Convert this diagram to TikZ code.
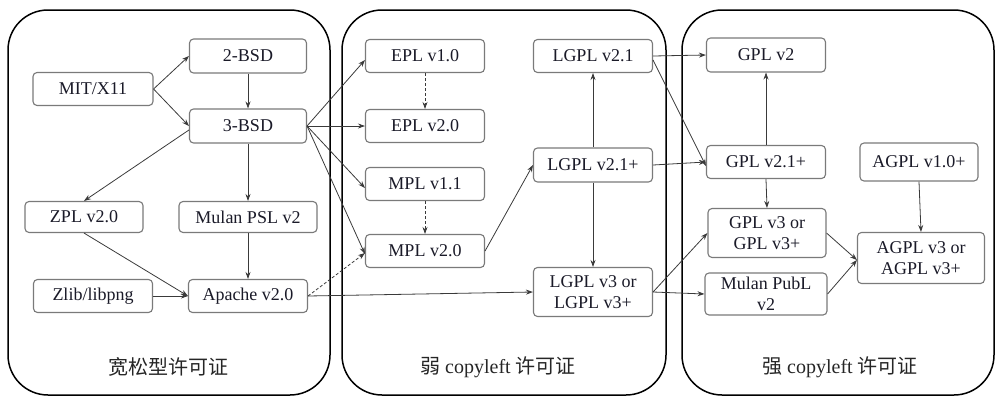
\documentclass[tikz,border=0pt]{standalone}
\usepackage{fontspec}
\setmainfont{Liberation Serif}
\newfontfamily\cjk{Noto Sans CJK SC}
\usetikzlibrary{arrows.meta}
\definecolor{boxgray}{HTML}{7A7A7A}
\definecolor{lngray}{HTML}{3A3A3A}
\definecolor{txt}{HTML}{1A1A28}
\begin{document}
\begin{tikzpicture}[x=1pt,y=-1pt,
  lic/.style={draw=boxgray, line width=1.1pt, rounded corners=4pt, inner sep=0pt,
    align=center, font=\fontsize{18}{21}\selectfont, text=txt, fill=white},
  arr/.style={draw=lngray, line width=0.8pt, -{Stealth[length=7pt,width=5pt]}},
  darr/.style={arr, dashed, dash pattern=on 3pt off 2pt},
  panel/.style={draw=black, line width=1.5pt, rounded corners=40pt},
  captext/.style={font=\fontsize{20}{24}\selectfont, text=black!85}]
\useasboundingbox (0,0) rectangle (997,397);
% panels
\draw[panel] (8,10) rectangle (330,395);
\draw[panel] (342,10) rectangle (666,395);
\draw[panel] (682,10) rectangle (994,395);
% permissive
\node[lic, minimum width=120pt, minimum height=33pt] (mit) at (93,89) {MIT/X11};
\node[lic, minimum width=117pt, minimum height=34pt] (bsd2) at (248,56) {2-BSD};
\node[lic, minimum width=117pt, minimum height=34pt] (bsd3) at (248,126) {3-BSD};
\node[lic, minimum width=118pt, minimum height=31pt] (zpl) at (84,217) {ZPL v2.0};
\node[lic, minimum width=138pt, minimum height=31pt] (mpsl) at (248,217) {Mulan PSL v2};
\node[lic, minimum width=119pt, minimum height=33pt] (zlib) at (93,296) {Zlib/libpng};
\node[lic, minimum width=119pt, minimum height=33pt] (apache) at (248,296) {Apache v2.0};
% weak copyleft
\node[lic, minimum width=119pt, minimum height=33pt] (epl1) at (425,56) {EPL v1.0};
\node[lic, minimum width=119pt, minimum height=33pt] (epl2) at (425,126) {EPL v2.0};
\node[lic, minimum width=119pt, minimum height=33pt] (mpl11) at (425,184) {MPL v1.1};
\node[lic, minimum width=119pt, minimum height=33pt] (mpl2) at (425,251) {MPL v2.0};
\node[lic, minimum width=119pt, minimum height=33pt] (lgpl21) at (593,56) {LGPL v2.1};
\node[lic, minimum width=119pt, minimum height=34pt] (lgpl21p) at (593,165) {LGPL v2.1+};
\node[lic, minimum width=119pt, minimum height=49pt] (lgpl3) at (593,292) {LGPL v3 or\\LGPL v3+};
% strong copyleft
\node[lic, minimum width=119pt, minimum height=34pt] (gpl2) at (766,55) {GPL v2};
\node[lic, minimum width=119pt, minimum height=33pt] (gpl21p) at (766,162) {GPL v2.1+};
\node[lic, minimum width=118pt, minimum height=38pt] (agpl1) at (919,162) {AGPL v1.0+};
\node[lic, minimum width=118pt, minimum height=49pt] (gpl3) at (767,233) {GPL v3 or\\GPL v3+};
\node[lic, minimum width=122pt, minimum height=42pt] (mpubl) at (766,294) {Mulan PubL\\v2};
\node[lic, minimum width=127pt, minimum height=51pt] (agpl3) at (921,258) {AGPL v3 or\\AGPL v3+};
% captions
\node[captext] (lab1) at (168,367) {\cjk 宽松型许可证};
\node[captext] (lab2) at (498,367) {{\cjk 弱} copyleft {\cjk 许可证}};
\node[captext] (lab3) at (840,367) {{\cjk 强} copyleft {\cjk 许可证}};
% edges permissive
\draw[arr] (mit.east) -- (bsd2.west);
\draw[arr] (mit.east) -- (bsd3.west);
\draw[arr] (bsd2.south) -- (bsd3.north);
\draw[arr] ([yshift=-4pt]bsd3.west) -- (zpl.north);
\draw[arr] (bsd3.south) -- (mpsl.north);
\draw[arr] (zpl.south) -- (apache.west);
\draw[arr] (mpsl.south) -- (apache.north);
\draw[arr] (zlib.east) -- (apache.west);
% to weak
\draw[arr] (bsd3.east) -- ([yshift=-4pt]epl1.west);
\draw[arr] (bsd3.east) -- (epl2.west);
\draw[arr] (bsd3.east) -- ([yshift=-4pt]mpl11.west);
\draw[arr] (bsd3.east) -- ([yshift=-3pt]mpl2.west);
\draw[darr] (epl1.south) -- (epl2.north);
\draw[darr] (mpl11.south) -- (mpl2.north);
\draw[darr] (apache.east) -- ([yshift=-2pt]mpl2.west);
\draw[arr] (apache.east) -- (lgpl3.west);
\draw[arr] (mpl2.east) -- (lgpl21p.west);
\draw[arr] (lgpl21p.north) -- (lgpl21.south);
\draw[arr] (lgpl21p.south) -- (lgpl3.north);
% to strong
\draw[arr] (lgpl21.east) -- (gpl2.west);
\draw[arr] ([yshift=-4pt]lgpl21.east) -- ([yshift=-4pt]gpl21p.west);
\draw[arr] (lgpl21p.east) -- (gpl21p.west);
\draw[arr] (gpl21p.north) -- (gpl2.south);
\draw[arr] (gpl21p.south) -- (gpl3.north);
\draw[arr] (lgpl3.east) -- (gpl3.west);
\draw[arr] (lgpl3.east) -- (mpubl.west);
\draw[arr] (gpl3.east) -- ([yshift=-2pt]agpl3.west);
\draw[arr] (mpubl.east) -- ([yshift=-2pt]agpl3.west);
\draw[arr] (agpl1.south) -- (agpl3.north);
\end{tikzpicture}
\end{document}
